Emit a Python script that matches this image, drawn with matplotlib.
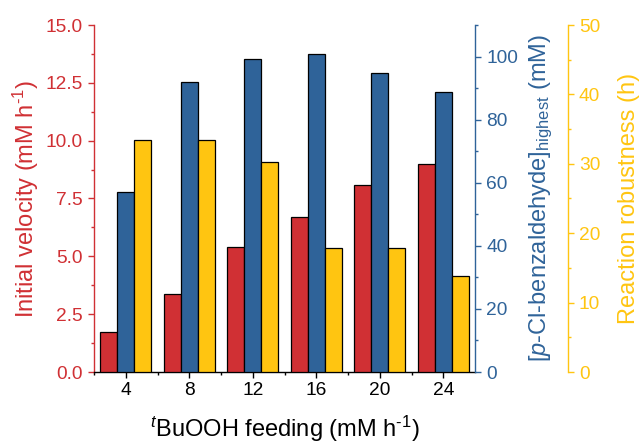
import matplotlib as mpl
import matplotlib.pyplot as plt
import numpy as np
from matplotlib.ticker import MultipleLocator

mpl.rcParams["font.family"] = ["Liberation Sans", "DejaVu Sans"]
mpl.rcParams["mathtext.fontset"] = "custom"
mpl.rcParams["mathtext.rm"] = "Liberation Sans"
mpl.rcParams["mathtext.it"] = "Liberation Sans:italic"
mpl.rcParams["mathtext.bf"] = "Liberation Sans:bold"

# data
feeding = [4, 8, 12, 16, 20, 24]
velocity = [1.73, 3.36, 5.40, 6.72, 8.10, 8.99]
aldehyde = [57.2, 92.0, 99.1, 100.7, 94.7, 88.8]
robustness = [33.4, 33.4, 30.3, 17.9, 17.9, 13.9]

RED = "#D03034"
BLUE = "#2F6399"
YELLOW = "#FFC511"
FS = 13.8   # tick labels
LFS = 17    # axis labels

fig = plt.figure(figsize=(6.41, 4.44), dpi=100)
ax = fig.add_axes([94 / 641, 1 - 372 / 444, (475 - 94) / 641, (372 - 25) / 444])
ax2 = ax.twinx()
ax3 = ax.twinx()

x = np.array(feeding, dtype=float)
w = 1.07
ax.bar(x - w, velocity, w, color=RED, edgecolor="black", linewidth=0.9, zorder=3)
ax2.bar(x, aldehyde, w, color=BLUE, edgecolor="black", linewidth=0.9, zorder=3)
ax3.bar(x + w, robustness, w, color=YELLOW, edgecolor="black", linewidth=0.9, zorder=3)

ax.set_xlim(2, 26)
ax.set_ylim(0, 15)
ax2.set_ylim(0, 110)
ax3.set_ylim(0, 50)

ax.set_xticks(feeding)
ax.set_xticks([2, 6, 10, 14, 18, 22], minor=True)
ax.yaxis.set_major_locator(MultipleLocator(2.5))
ax.yaxis.set_minor_locator(MultipleLocator(1.25))
ax.yaxis.set_major_formatter(mpl.ticker.FormatStrFormatter("%.1f"))
ax2.yaxis.set_major_locator(MultipleLocator(20))
ax2.yaxis.set_minor_locator(MultipleLocator(10))
ax3.yaxis.set_major_locator(MultipleLocator(10))
ax3.yaxis.set_minor_locator(MultipleLocator(5))

for a in (ax, ax2, ax3):
    a.spines["top"].set_visible(False)
ax.spines["right"].set_visible(False)
ax2.spines["left"].set_visible(False)
ax3.spines["left"].set_visible(False)
ax2.spines["bottom"].set_visible(False)
ax3.spines["bottom"].set_visible(False)
ax3.spines["right"].set_position(("outward", 92.7 * 72 / 100))

ax.spines["left"].set_color(RED)
ax2.spines["right"].set_color(BLUE)
ax3.spines["right"].set_color(YELLOW)
for a in (ax, ax2, ax3):
    for s in a.spines.values():
        s.set_linewidth(1.0)

ax.tick_params(axis="x", which="major", direction="out", length=4.5, width=1, labelsize=FS, pad=3)
ax.tick_params(axis="x", which="minor", direction="out", length=2.5, width=1)
for a, c in ((ax, RED), (ax2, BLUE), (ax3, YELLOW)):
    a.tick_params(axis="y", which="major", colors=c, length=4.5, width=1, labelsize=FS, pad=3.5)
    a.tick_params(axis="y", which="minor", colors=c, length=2.5, width=1)

ax.set_xlabel(r"$^{t}$BuOOH feeding (mM h$^{\text{-1}}$)", fontsize=LFS, labelpad=10)
ax.set_ylabel(r"Initial velocity (mM h$^{\text{-1}}$)", fontsize=LFS, color=RED, labelpad=3)
ax2.set_ylabel(r"[$p$-Cl-benzaldehyde]$_{\mathrm{highest}}$ (mM)", fontsize=LFS,
               color=BLUE, labelpad=7)
ax3.set_ylabel("Reaction robustness (h)", fontsize=LFS, color=YELLOW, labelpad=13)

fig.savefig("out.png", dpi=100)
